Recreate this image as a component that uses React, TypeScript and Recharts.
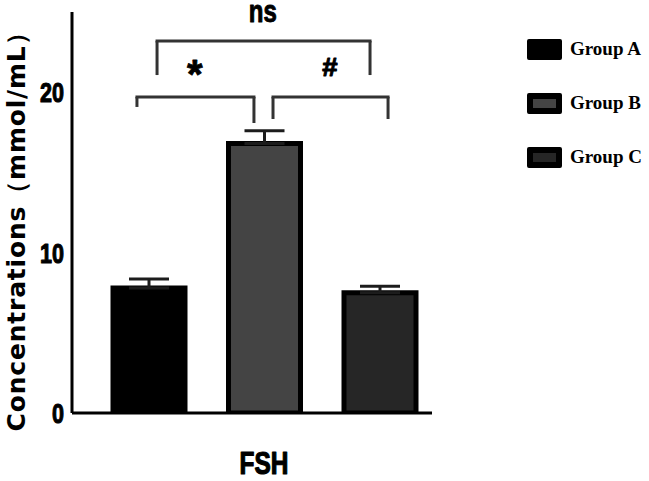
import React from 'react';
import {
  ComposedChart,
  Bar,
  XAxis,
  YAxis,
  ErrorBar,
  Legend,
  ReferenceLine,
  ReferenceDot,
} from 'recharts';

// ---- data ----
const categories = ['FSH'];
const groupNames = ['Group A', 'Group B', 'Group C'];
const groupValues = [7.8, 16.8, 7.5];
const groupErrors = [0.55, 0.8, 0.4];
const groupFills = ['#000000', '#444444', '#262626'];
const yTicks = [0, 10, 20];
const yDomain = [0, 25];

// significance brackets, in (bar index, value) units: A=1, B=2, C=3
const bracketFrom = [0.9, 2.078, 1.074];
const bracketTo = [1.913, 3.074, 2.918];
const bracketY = [19.7, 19.7, 23.19];
const bracketLeftEnd = [19.08, 18.33, 21.07];
const bracketRightEnd = [18.08, 18.33, 21.07];
const markTexts = ['*', '#', 'ns'];
const markX = [1.4, 2.57, 1.99];
const markY = [21.57, 21.57, 24.94];

const data = categories.map((name) => {
  const row: any = { name };
  groupNames.forEach((g, i) => {
    row['g' + i] = groupValues[i];
    row['e' + i] = [0, groupErrors[i]];
  });
  return row;
});

const SANS = "'Liberation Sans', Arial, sans-serif";

// glyph styling for the significance marks
const markStyle: Record<string, { size: number; dy: number; sx: number; sw: number }> = {
  '*': { size: 40, dy: 21, sx: 1, sw: 0.8 },
  '#': { size: 25, dy: 9, sx: 1.1, sw: 1 },
  ns: { size: 32, dy: 9, sx: 0.75, sw: 1 },
};

const NarrowText = ({ x, y, text, size, sx, anchor, sw }: any) => (
  <text
    x={x}
    y={y}
    textAnchor={anchor}
    transform={`translate(${x},${y}) scale(${sx},1) translate(${-x},${-y})`}
    fontFamily={SANS}
    fontWeight="bold"
    fontSize={size}
    fill="#000"
    stroke="#000"
    strokeWidth={sw}
    strokeLinejoin="round"
  >
    {text}
  </text>
);

const YTick = (props: any) => (
  <NarrowText x={props.x} y={props.y + 10} text={props.payload.value} size={28} sx={0.77} sw={1.1} anchor="end" />
);

const XTick = (props: any) => (
  <NarrowText x={props.x} y={props.y + 22} text={props.payload.value} size={30.5} sx={0.8} sw={1.2} anchor="middle" />
);

const MarkLabel = (text: string) => (props: any) => {
  const vb = props.viewBox || { x: 0, y: 0, width: 0, height: 0 };
  const st = markStyle[text];
  const cx = vb.x + (vb.width || 0) / 2;
  const cy = vb.y + (vb.height || 0) / 2;
  return <NarrowText x={cx} y={cy + st.dy} text={text} size={st.size} sx={st.sx} sw={st.sw} anchor="middle" />;
};

const LegendContent = (props: any) => {
  const payload = props.payload || [];
  return (
    <div style={{ fontFamily: "'Liberation Serif', 'Times New Roman', serif", fontWeight: 'bold', fontSize: 19 }}>
      {payload.map((entry: any, i: number) => (
        <div key={i} style={{ display: 'flex', alignItems: 'center', height: 22, marginBottom: 32 }}>
          <div
            style={{
              width: 35,
              height: 21,
              boxSizing: 'border-box',
              border: '6px solid #000',
              background: entry.color,
              borderRadius: 2,
              marginRight: 8,
            }}
          />
          <span style={{ color: '#000', whiteSpace: 'nowrap' }}>{entry.value}</span>
        </div>
      ))}
    </div>
  );
};

const YLabel = (props: any) => {
  const vb = props.viewBox || { x: 0, y: 0, width: 0, height: 0 };
  const x = vb.x + 25;
  const y = vb.y + vb.height / 2 + 13;
  return (
    <text
      x={x}
      y={y}
      transform={`rotate(-90, ${x}, ${y})`}
      textAnchor="middle"
      fontFamily="'DejaVu Sans', sans-serif"
      fontWeight="bold"
      fontSize={25}
      letterSpacing={0.8}
      fill="#000"
    >
      Concentrations（mmol/mL）
    </text>
  );
};

export default function App() {
  return (
    <div style={{ position: 'absolute', left: 0, top: 0, width: 649, height: 481, background: '#fff' }}>
      <ComposedChart
        width={649}
        height={481}
        data={data}
        margin={{ top: 12, right: 217, bottom: 0, left: 0 }}
        barSize={72}
        barGap={43.5}
      >
        <XAxis
          dataKey="name"
          height={68}
          padding={{ left: 24, right: 0 }}
          axisLine={{ stroke: '#000', strokeWidth: 3 }}
          tickLine={false}
          tickMargin={33}
          tick={XTick}
        />
        <XAxis
          xAxisId="n"
          type="number"
          dataKey="xi"
          domain={[0.3377, 3.4545]}
          allowDataOverflow
          hide
        />
        <YAxis
          width={72}
          domain={yDomain}
          ticks={yTicks}
          allowDataOverflow
          axisLine={{ stroke: '#000', strokeWidth: 3 }}
          tickLine={false}
          tick={YTick}
          label={{ content: YLabel }}
        />
        <Legend
          layout="horizontal"
          verticalAlign="middle"
          align="center"
          wrapperStyle={{ left: 527, top: 38, width: 'auto' }}
          content={LegendContent}
        />
        {groupNames.map((g, i) => (
          <Bar
            key={g}
            dataKey={'g' + i}
            name={g}
            fill={groupFills[i]}
            stroke="#000"
            strokeWidth={5}
            isAnimationActive={false}
          >
            <ErrorBar dataKey={'e' + i} width={20} strokeWidth={3} stroke="#1c1c1c" direction="y" />
          </Bar>
        ))}
        {bracketFrom.map((f, i) => (
          <ReferenceLine
            key={'h' + i}
            xAxisId="n"
            segment={[{ x: f, y: bracketY[i] }, { x: bracketTo[i], y: bracketY[i] }]}
            stroke="#333"
            strokeWidth={3}
            strokeLinecap="square"
            ifOverflow="visible"
          />
        ))}
        {bracketFrom.map((f, i) => (
          <ReferenceLine
            key={'l' + i}
            xAxisId="n"
            segment={[{ x: f, y: bracketY[i] }, { x: f, y: bracketLeftEnd[i] }]}
            stroke="#333"
            strokeWidth={3}
            ifOverflow="visible"
          />
        ))}
        {bracketTo.map((t, i) => (
          <ReferenceLine
            key={'r' + i}
            xAxisId="n"
            segment={[{ x: t, y: bracketY[i] }, { x: t, y: bracketRightEnd[i] }]}
            stroke="#333"
            strokeWidth={3}
            ifOverflow="visible"
          />
        ))}
        {markTexts.map((m, i) => (
          <ReferenceDot
            key={'m' + i}
            xAxisId="n"
            x={markX[i]}
            y={markY[i]}
            r={0}
            fill="none"
            stroke="none"
            ifOverflow="visible"
            label={{ content: MarkLabel(m) }}
          />
        ))}
      </ComposedChart>
    </div>
  );
}
